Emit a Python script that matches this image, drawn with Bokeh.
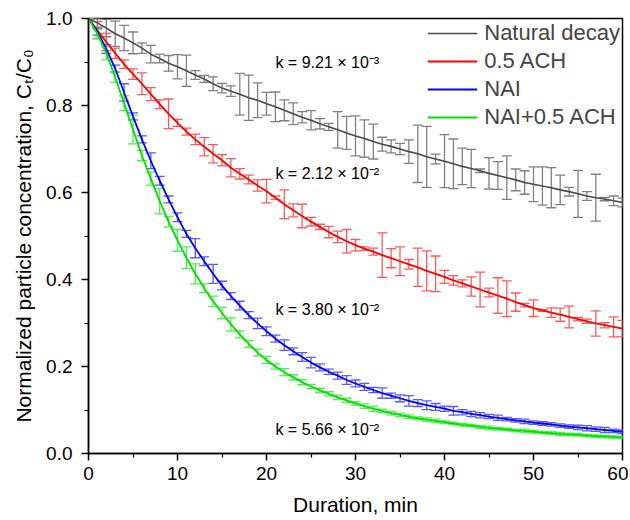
from bokeh.plotting import figure
from bokeh.models import (ColumnDataSource, Whisker, TeeHead, Label, Legend, LegendItem,
                          FixedTicker, PrintfTickFormatter, Range1d)
from bokeh.embed import file_html
from bokeh.resources import INLINE

minutes = list(range(61))

natural = [1.000, 0.990, 0.978, 0.965, 0.955, 0.944, 0.932, 0.918, 0.908, 0.897,
           0.889, 0.880, 0.870, 0.861, 0.850, 0.840, 0.833, 0.826, 0.818, 0.812,
           0.804, 0.797, 0.789, 0.781, 0.773, 0.766, 0.758, 0.751, 0.744, 0.737,
           0.730, 0.724, 0.717, 0.711, 0.706, 0.700, 0.694, 0.689, 0.682, 0.677,
           0.672, 0.666, 0.660, 0.655, 0.650, 0.644, 0.639, 0.634, 0.629, 0.623,
           0.619, 0.615, 0.611, 0.606, 0.602, 0.597, 0.592, 0.588, 0.585, 0.581,
           0.577]
natural_err = [0.000, 0.010, 0.020, 0.029, 0.029, 0.025, 0.012, 0.020, 0.010, 0.018,
               0.028, 0.036, 0.010, 0.008, 0.016, 0.011, 0.012, 0.048, 0.052, 0.040,
               0.026, 0.034, 0.024, 0.025, 0.013, 0.022, 0.012, 0.008, 0.042, 0.038,
               0.046, 0.043, 0.040, 0.016, 0.015, 0.013, 0.027, 0.066, 0.070, 0.011,
               0.061, 0.057, 0.042, 0.044, 0.004, 0.036, 0.032, 0.050, 0.025, 0.027,
               0.040, 0.044, 0.046, 0.034, 0.010, 0.054, 0.010, 0.054, 0.004, 0.011,
               0.010]

ach = [1.000, 0.973, 0.946, 0.920, 0.895, 0.872, 0.850, 0.826, 0.803, 0.781,
       0.760, 0.740, 0.722, 0.705, 0.689, 0.674, 0.657, 0.643, 0.630, 0.616,
       0.603, 0.588, 0.573, 0.559, 0.546, 0.533, 0.521, 0.509, 0.498, 0.488,
       0.479, 0.471, 0.464, 0.456, 0.449, 0.442, 0.435, 0.428, 0.420, 0.413,
       0.406, 0.398, 0.391, 0.384, 0.377, 0.370, 0.363, 0.356, 0.348, 0.341,
       0.334, 0.329, 0.324, 0.319, 0.314, 0.309, 0.304, 0.299, 0.295, 0.291,
       0.287]
ach_err = [0.000, 0.020, 0.020, 0.012, 0.010, 0.012, 0.025, 0.015, 0.010, 0.034,
           0.008, 0.008, 0.012, 0.021, 0.021, 0.013, 0.021, 0.012, 0.010, 0.013,
           0.027, 0.004, 0.033, 0.015, 0.027, 0.010, 0.006, 0.013, 0.013, 0.027,
           0.013, 0.004, 0.008, 0.051, 0.022, 0.033, 0.011, 0.044, 0.046, 0.041,
           0.015, 0.011, 0.008, 0.022, 0.040, 0.010, 0.041, 0.041, 0.021, 0.004,
           0.019, 0.002, 0.011, 0.015, 0.025, 0.004, 0.005, 0.029, 0.006, 0.023,
           0.019]

nai = [1.000, 0.970, 0.930, 0.885, 0.830, 0.775, 0.722, 0.673, 0.627, 0.584,
       0.543, 0.505, 0.472, 0.442, 0.413, 0.386, 0.362, 0.340, 0.318, 0.299,
       0.281, 0.264, 0.249, 0.235, 0.222, 0.209, 0.198, 0.188, 0.179, 0.169,
       0.161, 0.153, 0.146, 0.139, 0.133, 0.127, 0.121, 0.116, 0.111, 0.107,
       0.103, 0.098, 0.095, 0.091, 0.088, 0.085, 0.082, 0.079, 0.076, 0.074,
       0.071, 0.069, 0.067, 0.064, 0.062, 0.060, 0.058, 0.056, 0.054, 0.052,
       0.050]
nai_err = [0.000, 0.008, 0.010, 0.008, 0.020, 0.008, 0.008, 0.018, 0.010, 0.008,
           0.010, 0.008, 0.022, 0.010, 0.022, 0.010, 0.008, 0.010, 0.008, 0.012,
           0.010, 0.008, 0.012, 0.008, 0.010, 0.012, 0.008, 0.006, 0.008, 0.010,
           0.008, 0.008, 0.006, 0.012, 0.006, 0.008, 0.012, 0.008, 0.010, 0.008,
           0.006, 0.010, 0.006, 0.006, 0.006, 0.005, 0.006, 0.004, 0.004, 0.005,
           0.004, 0.004, 0.004, 0.004, 0.004, 0.005, 0.006, 0.005, 0.006, 0.004,
           0.004]

nai_ach = [1.000, 0.965, 0.920, 0.865, 0.805, 0.745, 0.685, 0.632, 0.580, 0.533,
           0.490, 0.450, 0.413, 0.380, 0.350, 0.323, 0.297, 0.274, 0.252, 0.232,
           0.215, 0.200, 0.187, 0.175, 0.164, 0.154, 0.145, 0.137, 0.129, 0.122,
           0.115, 0.109, 0.103, 0.098, 0.093, 0.089, 0.085, 0.081, 0.078, 0.075,
           0.072, 0.069, 0.066, 0.064, 0.061, 0.059, 0.057, 0.055, 0.053, 0.052,
           0.050, 0.048, 0.047, 0.045, 0.044, 0.043, 0.041, 0.040, 0.039, 0.038,
           0.037]
nai_ach_err = [0.000, 0.010, 0.015, 0.012, 0.017, 0.033, 0.012, 0.015, 0.029, 0.012,
               0.025, 0.025, 0.023, 0.010, 0.012, 0.013, 0.015, 0.008, 0.008, 0.008,
               0.008, 0.006, 0.008, 0.006, 0.006, 0.005, 0.005, 0.005, 0.005, 0.005,
               0.004, 0.005, 0.006, 0.004, 0.004, 0.004, 0.004, 0.003, 0.004, 0.004,
               0.003, 0.003, 0.003, 0.003, 0.003, 0.004, 0.003, 0.003, 0.003, 0.004,
               0.003, 0.003, 0.003, 0.003, 0.003, 0.003, 0.003, 0.003, 0.003, 0.003,
               0.003]

series_names = ["Natural decay", "0.5 ACH", "NAI", "NAI+0.5 ACH"]
k_labels = ["k = 9.21 × 10⁻³", "k = 2.12 × 10⁻²", "k = 3.80 × 10⁻²", "k = 5.66 × 10⁻²"]
x_ticks = [0, 10, 20, 30, 40, 50, 60]
y_ticks = [0.0, 0.2, 0.4, 0.6, 0.8, 1.0]

FONT = "Liberation Sans"

p = figure(width=628, height=518, x_range=Range1d(0, 60), y_range=Range1d(0, 1.0),
           output_backend="svg", toolbar_location=None,
           min_border_left=88, min_border_right=6, min_border_top=18, min_border_bottom=65)
p.xgrid.visible = False
p.ygrid.visible = False
p.outline_line_color = "black"
p.outline_line_width = 1.5
p.background_fill_color = "white"
p.border_fill_color = "white"

styles = [
    (natural, natural_err, "#4a4a4a", "#808080", 1.6),
    (ach, ach_err, "#ff0000", "#ff5a5a", 1.8),
    (nai, nai_err, "#0000ff", "#5a5aff", 1.8),
    (nai_ach, nai_ach_err, "#00e000", "#50f050", 1.8),
]

line_renderers = []
for vals, errs, lc, ec, lw in styles:
    src = ColumnDataSource(data=dict(
        x=minutes, y=vals,
        upper=[v + e for v, e in zip(vals, errs)],
        lower=[v - e for v, e in zip(vals, errs)],
    ))
    w = Whisker(source=src, base="x", upper="upper", lower="lower", dimension="height",
                line_color=ec, line_width=1.3,
                upper_head=TeeHead(size=10, line_color=ec, line_width=1.3),
                lower_head=TeeHead(size=10, line_color=ec, line_width=1.3))
    p.add_layout(w)
    r = p.line("x", "y", source=src, line_color=lc, line_width=lw)
    line_renderers.append(r)

legend = Legend(items=[LegendItem(label=n, renderers=[r]) for n, r in zip(series_names, line_renderers)],
                location="top_right")
legend.label_text_font = FONT
legend.label_text_font_size = "22px"
legend.glyph_width = 50
legend.glyph_height = 24
legend.label_height = 24
legend.spacing = 2
legend.padding = 1
legend.margin = 1
legend.label_standoff = 7
legend.border_line_alpha = 0
legend.background_fill_alpha = 0
p.add_layout(legend)

k_pos = [(21, 0.898), (21, 0.644), (21, 0.331), (21, 0.055)]
for txt, (kx, ky) in zip(k_labels, k_pos):
    p.add_layout(Label(x=kx, y=ky, text=txt, text_font=FONT, text_font_size="16px",
                       text_baseline="middle", text_color="black"))

p.xaxis.ticker = FixedTicker(ticks=x_ticks, minor_ticks=[5, 15, 25, 35, 45, 55])
p.yaxis.ticker = FixedTicker(ticks=y_ticks, minor_ticks=[0.1, 0.3, 0.5, 0.7, 0.9])
p.yaxis.formatter = PrintfTickFormatter(format="%.1f")

p.xaxis.axis_label = "Duration, min"
p.yaxis.axis_label = "Normalized particle concentration, Cₜ/C₀"

for ax in (p.xaxis, p.yaxis):
    ax.axis_line_width = 1.5
    ax.axis_line_color = "black"
    ax.major_tick_line_width = 1.5
    ax.major_tick_line_color = "black"
    ax.minor_tick_line_width = 1.2
    ax.minor_tick_line_color = "black"
    ax.major_tick_in = 0
    ax.major_tick_out = 7
    ax.minor_tick_in = 0
    ax.minor_tick_out = 4
    ax.major_label_text_font = FONT
    ax.major_label_text_font_size = "19px"
    ax.major_label_text_color = "black"
    ax.axis_label_text_font = FONT
    ax.axis_label_text_font_size = "21px"
    ax.axis_label_text_font_style = "normal"
    ax.axis_label_text_color = "black"

p.yaxis.major_label_standoff = 9
p.yaxis.axis_label_standoff = 8
p.xaxis.major_label_standoff = 6
p.xaxis.axis_label_standoff = 10

open("out.html", "w").write(file_html(p, INLINE))
